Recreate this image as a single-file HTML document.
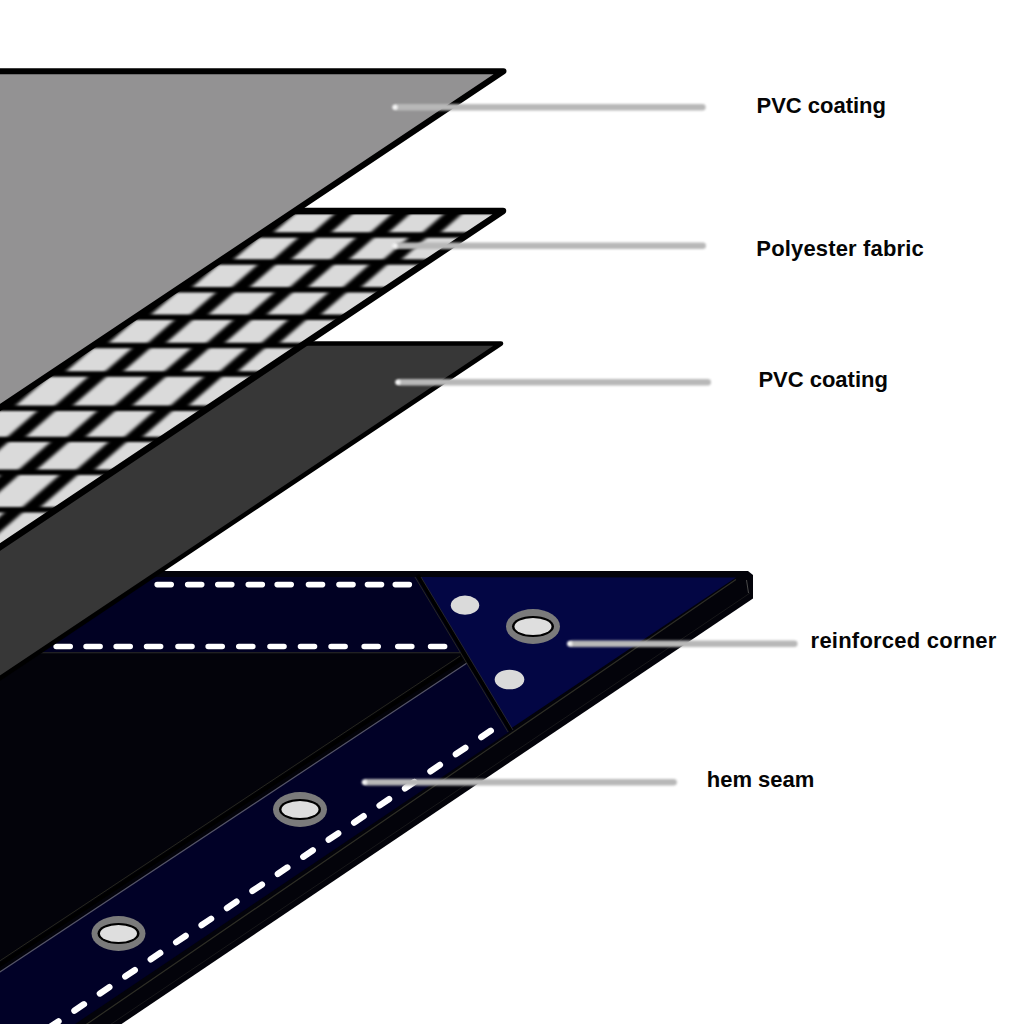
<!DOCTYPE html>
<html><head><meta charset="utf-8">
<style>
html,body{margin:0;padding:0;background:#fff;width:1024px;height:1024px;overflow:hidden}
svg{display:block}
text{font-family:"Liberation Sans",sans-serif;font-weight:bold;font-size:22px;fill:#050505}
</style></head><body>
<svg width="1024" height="1024" viewBox="0 0 1024 1024">
<defs>
<filter id="bl" filterUnits="userSpaceOnUse" color-interpolation-filters="sRGB" x="-50" y="-50" width="1124" height="1124"><feGaussianBlur color-interpolation-filters="sRGB" stdDeviation="2.0 0.9"/></filter>
<filter id="bl2" filterUnits="userSpaceOnUse" color-interpolation-filters="sRGB" x="-50" y="-50" width="1124" height="1124"><feGaussianBlur color-interpolation-filters="sRGB" stdDeviation="0.6"/></filter>
<filter id="bl4" filterUnits="userSpaceOnUse" color-interpolation-filters="sRGB" x="-50" y="-50" width="1124" height="1124"><feGaussianBlur color-interpolation-filters="sRGB" stdDeviation="0.9"/></filter>
<filter id="bl3" filterUnits="userSpaceOnUse" color-interpolation-filters="sRGB" x="-50" y="-50" width="1124" height="1124"><feGaussianBlur color-interpolation-filters="sRGB" stdDeviation="0.45"/></filter>
<clipPath id="fabclip"><polygon points="-900,211.1 503.0,211.1 -827.7,1100.0 -900,1100.0"/></clipPath>
</defs>
<rect width="1024" height="1024" fill="#fff"/>

<!-- ===== TARP ===== -->
<g id="tarp" filter="url(#bl3)">
  <polygon points="-100,571 748,571 753,575 753,598.4 -100,1173.3" fill="#03030a"/>
  <line x1="736" y1="579.5" x2="-100" y2="1152" stroke="#2e2e26" stroke-width="1.2"/>
  <line x1="750" y1="593" x2="-100" y2="1166.5" stroke="#18181a" stroke-width="1"/>
  <line x1="746.5" y1="580" x2="748.5" y2="593" stroke="#4a4a4a" stroke-width="1"/>
  <polygon points="-100,577 418,577 462,652 -100,652" fill="#010123"/>
  <line x1="-100" y1="652.8" x2="460" y2="652.8" stroke="#2c2c2c" stroke-width="1.1"/>
  <polygon points="467,663.5 512,730 -100,1141.9 -100,1038.5" fill="#010127"/>
  <line x1="462" y1="658.5" x2="-100" y2="1031" stroke="#000" stroke-width="4"/>
  <line x1="460" y1="656" x2="-100" y2="1027" stroke="#26261e" stroke-width="1"/>
  <line x1="467" y1="663" x2="-100" y2="1038" stroke="#55556a" stroke-width="1.2"/>
  <polygon points="420,577 736,577.5 509.4,729.4" fill="#030644"/>
  <line x1="417.5" y1="575" x2="511" y2="731" stroke="#000" stroke-width="4"/>
  <line x1="415" y1="577" x2="508" y2="732" stroke="#2a2a22" stroke-width="0.9"/>
  <line x1="421" y1="577" x2="513" y2="730" stroke="#2a2a30" stroke-width="0.9"/>
  
  <path d="M157.2,584.6 h14 M187.7,584.6 h14 M217.8,584.6 h14 M248.3,584.6 h14 M277.2,584.6 h14 M308.5,584.6 h14 M339.0,584.6 h14 M367.5,584.6 h14 M395.3,584.6 h14" stroke="#fff" stroke-width="5.6" stroke-linecap="round"/>
  <path d="M56.2,646.5 h14 M86.1,646.5 h14 M116.2,646.5 h14 M146.6,646.5 h14 M178.0,646.5 h14 M208.2,646.5 h14 M238.8,646.5 h14 M270.0,646.5 h14 M300.5,646.5 h14 M331.1,646.5 h14 M364.2,646.5 h14 M397.8,646.5 h14 M430.6,646.5 h14" stroke="#fff" stroke-width="5.6" stroke-linecap="round"/>
  <path d="M490.8,730.7 L-100,1127.9" stroke="#fff" stroke-width="6.3" stroke-linecap="round" stroke-dasharray="11.5 19.14"/>
  <g>
    <ellipse cx="533" cy="626.5" rx="27" ry="17.4" fill="#7b7b7b"/>
    <ellipse cx="533" cy="626.5" rx="21" ry="10.6" fill="#000"/>
    <ellipse cx="533" cy="626.5" rx="18.5" ry="8.6" fill="#dedede"/>
    <ellipse cx="300" cy="809.5" rx="27" ry="17.4" fill="#7b7b7b"/>
    <ellipse cx="300" cy="809.5" rx="21" ry="10.6" fill="#000"/>
    <ellipse cx="300" cy="809.5" rx="18.5" ry="8.6" fill="#dedede"/>
    <ellipse cx="118.5" cy="933.5" rx="27" ry="17.4" fill="#7b7b7b"/>
    <ellipse cx="118.5" cy="933.5" rx="21" ry="10.6" fill="#000"/>
    <ellipse cx="118.5" cy="933.5" rx="18.5" ry="8.6" fill="#dedede"/>
    <ellipse cx="465" cy="605.2" rx="14.2" ry="9.6" fill="#dadada"/>
    <ellipse cx="509.5" cy="679.5" rx="14.8" ry="9.8" fill="#dadada"/>
  </g>
</g>

<!-- ===== DARK SHEET ===== -->
<polygon points="-900,343.5 501.0,343.5 -631.5,1100.0 -900,1100.0" fill="#373737" stroke="#000" stroke-width="4.6" stroke-linejoin="round" filter="url(#bl3)"/>

<!-- ===== FABRIC ===== -->
<g id="fabric">
  <polygon points="-900,211.1 503.0,211.1 -827.7,1100.0 -900,1100.0" fill="#000"/>
  <g clip-path="url(#fabclip)">
   <g fill="#dadada" filter="url(#bl)">
    <polygon points="179.1,213.8 219.1,213.8 197.8,232.3 157.8,232.3"/>
    <polygon points="237.1,213.8 277.1,213.8 255.8,232.3 215.8,232.3"/>
    <polygon points="295.1,213.8 334.6,213.8 313.3,232.3 273.8,232.3"/>
    <polygon points="352.6,213.8 392.1,213.8 370.8,232.3 331.3,232.3"/>
    <polygon points="410.1,213.8 444.1,213.8 422.8,232.3 388.8,232.3"/>
    <polygon points="462.1,213.8 500.6,213.8 479.3,232.3 440.8,232.3"/>
    <polygon points="518.6,213.8 557.6,213.8 536.3,232.3 497.3,232.3"/>
    <polygon points="142.7,237.7 182.7,237.7 157.8,259.3 117.8,259.3"/>
    <polygon points="200.7,237.7 240.7,237.7 215.8,259.3 175.8,259.3"/>
    <polygon points="258.7,237.7 298.1,237.7 273.3,259.3 233.8,259.3"/>
    <polygon points="316.1,237.7 355.9,237.7 331.1,259.3 291.3,259.3"/>
    <polygon points="373.9,237.7 408.6,237.7 383.7,259.3 349.1,259.3"/>
    <polygon points="426.6,237.7 465.4,237.7 440.6,259.3 401.7,259.3"/>
    <polygon points="483.4,237.7 522.4,237.7 497.6,259.3 458.6,259.3"/>
    <polygon points="102.0,264.7 142.0,264.7 116.4,287.0 76.4,287.0"/>
    <polygon points="160.0,264.7 200.0,264.7 174.4,287.0 134.4,287.0"/>
    <polygon points="218.0,264.7 257.5,264.7 231.8,287.0 192.4,287.0"/>
    <polygon points="275.5,264.7 315.6,264.7 290.0,287.0 249.8,287.0"/>
    <polygon points="333.6,264.7 369.0,264.7 343.3,287.0 308.0,287.0"/>
    <polygon points="387.0,264.7 426.2,264.7 400.5,287.0 361.3,287.0"/>
    <polygon points="444.2,264.7 483.2,264.7 457.5,287.0 418.5,287.0"/>
    <polygon points="60.5,292.4 100.5,292.4 75.0,314.6 35.0,314.6"/>
    <polygon points="118.5,292.4 158.5,292.4 133.0,314.6 93.0,314.6"/>
    <polygon points="176.5,292.4 215.9,292.4 190.4,314.6 151.0,314.6"/>
    <polygon points="233.9,292.4 274.4,292.4 248.8,314.6 208.4,314.6"/>
    <polygon points="292.4,292.4 328.4,292.4 302.9,314.6 266.8,314.6"/>
    <polygon points="346.4,292.4 386.0,292.4 360.5,314.6 320.9,314.6"/>
    <polygon points="404.0,292.4 443.0,292.4 417.5,314.6 378.5,314.6"/>
    <polygon points="19.0,320.0 59.0,320.0 32.8,342.8 -7.2,342.8"/>
    <polygon points="77.0,320.0 117.0,320.0 90.8,342.8 50.8,342.8"/>
    <polygon points="135.0,320.0 174.4,320.0 148.1,342.8 108.8,342.8"/>
    <polygon points="192.4,320.0 233.2,320.0 206.9,342.8 166.1,342.8"/>
    <polygon points="251.2,320.0 287.9,320.0 261.7,342.8 224.9,342.8"/>
    <polygon points="305.9,320.0 345.9,320.0 319.7,342.8 279.7,342.8"/>
    <polygon points="363.9,320.0 402.9,320.0 376.7,342.8 337.7,342.8"/>
    <polygon points="-23.3,348.2 16.7,348.2 -9.9,371.3 -49.9,371.3"/>
    <polygon points="34.7,348.2 74.7,348.2 48.1,371.3 8.1,371.3"/>
    <polygon points="92.7,348.2 132.0,348.2 105.4,371.3 66.1,371.3"/>
    <polygon points="150.0,348.2 191.1,348.2 164.5,371.3 123.4,371.3"/>
    <polygon points="209.1,348.2 246.6,348.2 220.0,371.3 182.5,371.3"/>
    <polygon points="264.6,348.2 305.0,348.2 278.4,371.3 238.0,371.3"/>
    <polygon points="323.0,348.2 362.0,348.2 335.4,371.3 296.4,371.3"/>
    <polygon points="-67.1,376.7 -27.1,376.7 -60.3,405.6 -100.3,405.6"/>
    <polygon points="-9.1,376.7 30.9,376.7 -2.3,405.6 -42.3,405.6"/>
    <polygon points="48.9,376.7 88.2,376.7 54.9,405.6 15.7,405.6"/>
    <polygon points="106.2,376.7 147.7,376.7 114.4,405.6 72.9,405.6"/>
    <polygon points="165.7,376.7 203.9,376.7 170.7,405.6 132.4,405.6"/>
    <polygon points="221.9,376.7 262.8,376.7 229.6,405.6 188.7,405.6"/>
    <polygon points="280.8,376.7 319.8,376.7 286.6,405.6 247.6,405.6"/>
    <polygon points="-118.0,411.0 -78.0,411.0 -107.6,436.7 -147.6,436.7"/>
    <polygon points="-60.0,411.0 -20.0,411.0 -49.6,436.7 -89.6,436.7"/>
    <polygon points="-2.0,411.0 37.2,411.0 7.7,436.7 -31.6,436.7"/>
    <polygon points="55.2,411.0 97.1,411.0 67.6,436.7 25.7,436.7"/>
    <polygon points="115.1,411.0 154.2,411.0 124.7,436.7 85.6,436.7"/>
    <polygon points="172.2,411.0 213.5,411.0 184.0,436.7 142.7,436.7"/>
    <polygon points="231.5,411.0 270.5,411.0 241.0,436.7 202.0,436.7"/>
    <polygon points="-165.0,442.1 -125.0,442.1 -156.6,469.6 -196.6,469.6"/>
    <polygon points="-107.0,442.1 -67.0,442.1 -98.6,469.6 -138.6,469.6"/>
    <polygon points="-49.0,442.1 -9.8,442.1 -41.4,469.6 -80.6,469.6"/>
    <polygon points="8.2,442.1 50.5,442.1 18.9,469.6 -23.4,469.6"/>
    <polygon points="68.5,442.1 108.4,442.1 76.8,469.6 36.9,469.6"/>
    <polygon points="126.4,442.1 168.2,442.1 136.6,469.6 94.8,469.6"/>
    <polygon points="186.2,442.1 225.2,442.1 193.6,469.6 154.6,469.6"/>
    <polygon points="-215.1,475.0 -175.1,475.0 -212.0,507.1 -252.0,507.1"/>
    <polygon points="-157.1,475.0 -117.1,475.0 -154.0,507.1 -194.0,507.1"/>
    <polygon points="-99.1,475.0 -60.0,475.0 -96.9,507.1 -136.0,507.1"/>
    <polygon points="-42.0,475.0 0.7,475.0 -36.2,507.1 -78.9,507.1"/>
    <polygon points="18.7,475.0 59.5,475.0 22.6,507.1 -18.2,507.1"/>
    <polygon points="77.5,475.0 119.8,475.0 82.9,507.1 40.6,507.1"/>
    <polygon points="137.8,475.0 176.8,475.0 139.9,507.1 100.9,507.1"/>
    <polygon points="-271.5,512.5 -231.5,512.5 -269.2,545.3 -309.2,545.3"/>
    <polygon points="-213.5,512.5 -173.5,512.5 -211.2,545.3 -251.2,545.3"/>
    <polygon points="-155.5,512.5 -116.4,512.5 -154.1,545.3 -193.2,545.3"/>
    <polygon points="-98.4,512.5 -55.2,512.5 -93.0,545.3 -136.1,545.3"/>
    <polygon points="-37.2,512.5 4.5,512.5 -33.2,545.3 -75.0,545.3"/>
    <polygon points="22.5,512.5 65.3,512.5 27.6,545.3 -15.2,545.3"/>
    <polygon points="83.3,512.5 122.3,512.5 84.6,545.3 45.6,545.3"/>
    <polygon points="-329.5,550.7 -289.5,550.7 -331.5,587.3 -371.5,587.3"/>
    <polygon points="-271.5,550.7 -231.5,550.7 -273.5,587.3 -313.5,587.3"/>
    <polygon points="-213.5,550.7 -174.4,550.7 -216.5,587.3 -255.5,587.3"/>
    <polygon points="-156.4,550.7 -112.8,550.7 -154.9,587.3 -198.5,587.3"/>
    <polygon points="-94.8,550.7 -52.0,550.7 -94.1,587.3 -136.9,587.3"/>
    <polygon points="-34.0,550.7 9.3,550.7 -32.7,587.3 -76.1,587.3"/>
    <polygon points="27.3,550.7 66.3,550.7 24.3,587.3 -14.7,587.3"/>
   </g>
  </g>
  <polygon points="-900,211.1 503.0,211.1 -827.7,1100.0 -900,1100.0" fill="none" stroke="#000" stroke-width="6.5" stroke-linejoin="round" filter="url(#bl3)"/>
</g>

<!-- ===== TOP SHEET ===== -->
<polygon points="-900,71.3 503.5,71.3 -1036.5,1100.0 -900,1100.0" fill="#939293" stroke="#000" stroke-width="6" stroke-linejoin="round" filter="url(#bl3)"/>

<!-- ===== CONNECTORS ===== -->
<g stroke="#b8b8b8" stroke-width="6.5" stroke-linecap="round" filter="url(#bl4)">
  <line x1="397.5" y1="107.3" x2="702.4" y2="107.3"/>
  <line x1="397.5" y1="245.8" x2="702.7" y2="245.8"/>
  <line x1="400.4" y1="382.2" x2="707.7" y2="382.2"/>
  <line x1="572.2" y1="643.7" x2="794.3" y2="643.7"/>
  <line x1="367.0" y1="782.3" x2="673.6" y2="782.3"/>
</g>
<g fill="#f4f4f4" filter="url(#bl4)">
  <circle cx="395.0" cy="107.3" r="2.7"/>
  <circle cx="395.0" cy="245.8" r="2.7"/>
  <circle cx="397.9" cy="382.2" r="2.7"/>
  <circle cx="569.7" cy="643.7" r="2.7"/>
  <circle cx="364.5" cy="782.3" r="2.7"/>
</g>

<!-- ===== LABELS ===== -->
<text x="756.5" y="113.2" textLength="129.5" lengthAdjust="spacing">PVC coating</text>
<text x="756.3" y="255.8" textLength="167.5" lengthAdjust="spacing">Polyester fabric</text>
<text x="758.4" y="386.5" textLength="129.5" lengthAdjust="spacing">PVC coating</text>
<text x="810.6" y="647.6" textLength="185.8" lengthAdjust="spacing">reinforced corner</text>
<text x="706.8" y="786.6" textLength="107.4" lengthAdjust="spacing">hem seam</text>
</svg>
</body></html>
